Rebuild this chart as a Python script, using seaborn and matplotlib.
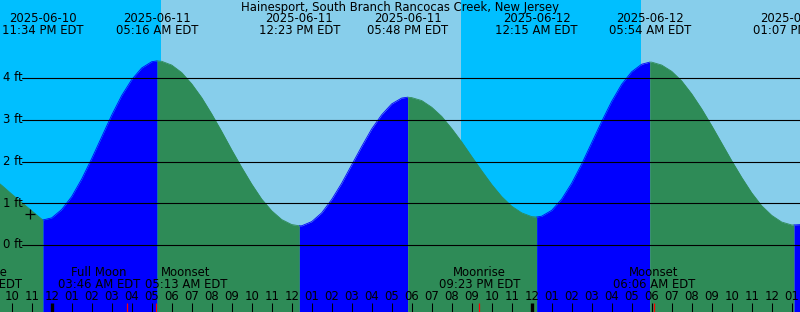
import numpy as np
import pandas as pd
import matplotlib
matplotlib.use("Agg")
import matplotlib.pyplot as plt
import seaborn as sns
from matplotlib.transforms import blended_transform_factory

# ---------------- data ----------------
title = "Hainesport, South Branch Rancocas Creek, New Jersey"
origin = "2025-06-11 00:00"

tide_times = ["2025-06-10 23:34", "2025-06-11 05:16", "2025-06-11 12:23",
              "2025-06-11 17:48", "2025-06-12 00:15", "2025-06-12 05:54",
              "2025-06-12 13:07"]
tide_heights = [0.60, 4.41, 0.46, 3.54, 0.67, 4.38, 0.48]
tide_dates = ["2025-06-10", "2025-06-11", "2025-06-11", "2025-06-11",
              "2025-06-12", "2025-06-12", "2025-06-12"]
tide_clock = ["11:34 PM EDT", "05:16 AM EDT", "12:23 PM EDT", "05:48 PM EDT",
              "12:15 AM EDT", "05:54 AM EDT", "01:07 PM EDT"]

# water level (ft), every 30 min from 2025-06-10 21:00
curve_start = "2025-06-10 21:00"
curve_heights = [1.62, 1.43, 1.22, 1.02, 0.82, 0.62,
                 0.65, 0.85, 1.16, 1.58, 2.07, 2.59, 3.11, 3.58, 3.96, 4.24,
                 4.39, 4.40, 4.31, 4.13, 3.86, 3.53, 3.14, 2.72, 2.28, 1.86,
                 1.46, 1.10, 0.82, 0.61, 0.49, 0.46, 0.56, 0.77, 1.09, 1.48,
                 1.92, 2.36, 2.78, 3.12, 3.38, 3.52, 3.53, 3.46, 3.30, 3.08,
                 2.79, 2.47, 2.12, 1.78, 1.45, 1.16, 0.93, 0.77, 0.68, 0.69,
                 0.83, 1.10, 1.48, 1.94, 2.45, 2.96, 3.44, 3.85, 4.15, 4.33,
                 4.38, 4.31, 4.16, 3.93, 3.62, 3.26, 2.86, 2.44, 2.02, 1.62,
                 1.25, 0.94, 0.71, 0.55, 0.48, 0.49, 0.53]

sun_times = ["2025-06-10 20:27", "2025-06-11 05:28", "2025-06-11 20:28",
             "2025-06-12 05:28", "2025-06-12 20:29"]
sun_kinds = ["set", "rise", "set", "rise", "set"]

moon_times = ["2025-06-10 20:28", "2025-06-11 03:46", "2025-06-11 05:13",
              "2025-06-11 21:23", "2025-06-12 06:06"]
moon_names = ["Moonrise", "Full Moon", "Moonset", "Moonrise", "Moonset"]
moon_clock = ["08:28 PM EDT", "03:46 AM EDT", "05:13 AM EDT", "09:23 PM EDT",
              "06:06 AM EDT"]
moon_label_shift_px = [0, -28, 30, 0, 0]

marker_time = "2025-06-10 22:55"
marker_height = 0.74

ft_ticks = [0, 1, 2, 3, 4]

# ---------------- helpers ----------------
t0 = pd.Timestamp(origin)
def hours(s):
    return (pd.to_datetime(s) - t0) / pd.Timedelta(hours=1)

W, H = 800, 312
PX_PER_H = 20.0
X0_PX = 51.7          # midnight of origin
PX_PER_FT = 41.75
Y0_PX = 245.0         # 0 ft line from top

xmin = -X0_PX / PX_PER_H
xmax = (W - X0_PX) / PX_PER_H
ytop = Y0_PX / PX_PER_FT
ybot = (Y0_PX - H) / PX_PER_FT

def yfrac(px_from_top):
    return (H - px_from_top) / H

NIGHT = "#00BFFF"
DAY = "#87CEEB"
FALL = "#2E8B57"
RISE = "#0000FF"
TXT = "black"

sns.set_style("white")
plt.rcParams["font.family"] = ["DejaVu Sans"]
plt.rcParams["text.color"] = TXT
FS = 8.4

fig = plt.figure(figsize=(W / 100, H / 100), dpi=100)
ax = fig.add_axes([0, 0, 1, 1])
ax.set_xlim(xmin, xmax)
ax.set_ylim(ybot, ytop)
ax.set_facecolor(NIGHT)
for s in ax.spines.values():
    s.set_visible(False)
ax.set_xticks([])
ax.set_yticks([])

# day bands
sun_h = [hours(s) for s in sun_times]
for i, k in enumerate(sun_kinds):
    if k == "rise" and i + 1 < len(sun_h):
        ax.axvspan(sun_h[i], sun_h[i + 1], color=DAY, lw=0, zorder=0)

# curve: readings merged with the tide extremes
curve_t = hours(pd.date_range(curve_start, periods=len(curve_heights), freq="30min"))
ext_t = np.array([hours(s) for s in tide_times])
df = pd.DataFrame({"t": np.concatenate([np.asarray(curve_t), ext_t]),
                   "h": np.concatenate([curve_heights, tide_heights])})
df = df.sort_values("t").drop_duplicates("t").reset_index(drop=True)

bounds = [-np.inf] + list(ext_t) + [np.inf]
for i in range(len(bounds) - 1):
    seg = df[(df.t >= bounds[i]) & (df.t <= bounds[i + 1])]
    if len(seg) < 2:
        continue
    if i == 0:
        falling = True
    elif i == len(bounds) - 2:
        falling = False
    else:
        falling = tide_heights[i] < tide_heights[i - 1]
    col = FALL if falling else RISE
    ax.fill_between(seg.t, seg.h, ybot, color=col, lw=0, zorder=1)
    sns.lineplot(x=seg.t.values, y=seg.h.values, color=col, lw=0.6,
                 ax=ax, zorder=1.5, legend=False)

# grid lines and labels
for v in ft_ticks:
    ax.axhline(v, xmin=22 / W, xmax=1, color="black", lw=0.8, zorder=2)
    ax.text(3 / PX_PER_H + xmin, v, f"{v} ft", fontsize=FS, ha="left",
            va="center", color=TXT, zorder=3)

# current-time marker
ax.plot([hours(marker_time)], [marker_height], marker="+", ms=7, mew=0.9,
        color="black", zorder=3, ls="none")

bx = blended_transform_factory(ax.transData, ax.transAxes)

# title and tide labels
ax.text(0.5, yfrac(7), title, transform=ax.transAxes, ha="center",
        va="center", fontsize=FS, color=TXT, zorder=3)
for t, d, c in zip(ext_t, tide_dates, tide_clock):
    ax.text(t, yfrac(19), d, transform=bx, ha="center", va="center",
            fontsize=FS, color=TXT, zorder=3)
    ax.text(t, yfrac(31), c, transform=bx, ha="center", va="center",
            fontsize=FS, color=TXT, zorder=3)

# hour ticks and labels
tick_y0 = yfrac(303)
for hh in range(int(np.floor(xmin)), int(np.ceil(xmax)) + 1):
    ts = t0 + pd.Timedelta(hours=hh)
    if ts.hour == 0:
        ax.vlines(hh, 0, tick_y0, transform=bx, color="black", lw=2.4, zorder=3)
    else:
        ax.vlines(hh, 0, tick_y0, transform=bx, color="black", lw=0.75, zorder=3)
    ax.text(hh, yfrac(297), ts.strftime("%I"), transform=bx, ha="center",
            va="center", fontsize=FS, color=TXT, zorder=3)

# moon events
for mt, nm, mc, sh in zip(moon_times, moon_names, moon_clock, moon_label_shift_px):
    th = hours(mt)
    ax.vlines(th, 0, tick_y0, transform=bx, color="red", lw=0.9, zorder=3.5)
    lx = th + sh / PX_PER_H
    ax.text(lx, yfrac(273), nm, transform=bx, ha="center", va="center",
            fontsize=FS, color=TXT, zorder=3)
    ax.text(lx, yfrac(285), mc, transform=bx, ha="center", va="center",
            fontsize=FS, color=TXT, zorder=3)

fig.savefig("out.png", dpi=100)
